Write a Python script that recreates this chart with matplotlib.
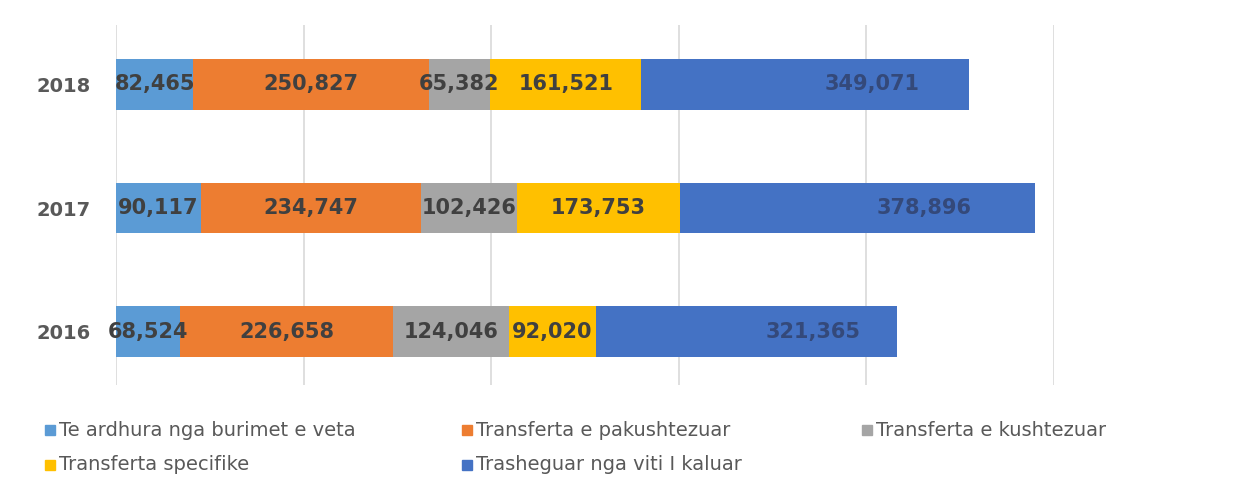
import matplotlib
matplotlib.use("Agg")
import matplotlib.pyplot as plt
from matplotlib.patches import Rectangle

years = ["2016", "2017", "2018"]
series_names = [
    "Te ardhura nga burimet e veta",
    "Transferta e pakushtezuar",
    "Transferta e kushtezuar",
    "Transferta specifike",
    "Trasheguar nga viti I kaluar",
]
own_revenue = [68524, 90117, 82465]
unconditional = [226658, 234747, 250827]
conditional = [124046, 102426, 65382]
specific = [92020, 173753, 161521]
carried_over = [321365, 378896, 349071]

series_values = [own_revenue, unconditional, conditional, specific, carried_over]
colors = ["#5B9BD5", "#ED7D31", "#A5A5A5", "#FFC000", "#4472C4"]
label_colors = ["#404040", "#404040", "#404040", "#404040", "#34497a"]
label_offsets = [0, 0, 0, 0, 48]  # points

W, H = 1239, 479
fig = plt.figure(figsize=(W / 100, H / 100), dpi=100)
fig.patch.set_facecolor("white")
ax = fig.add_axes([116 / W, 1 - 385 / H, (1054 - 116) / W, 360 / H])

ypos = list(range(len(years)))
left = [0] * len(years)
for vals, col, lc, off in zip(series_values, colors, label_colors, label_offsets):
    ax.barh(ypos, vals, left=left, height=0.41, color=col, zorder=3)
    for y, l, v in zip(ypos, left, vals):
        ax.annotate(f"{v:,}", xy=(l + v / 2, y), xytext=(off, 0),
                    textcoords="offset points", ha="center", va="center",
                    fontsize=15, fontweight="bold", color=lc, zorder=4)
    left = [a + b for a, b in zip(left, vals)]

ax.set_xlim(0, 1000000)
ax.set_ylim(-0.43, 2.48)
ax.set_xticks(range(0, 1000001, 200000))
ax.set_xticklabels([])
ax.tick_params(axis="x", length=0)
ax.grid(axis="x", color="#D9D9D9", linewidth=1.2, zorder=0)
ax.set_yticks(ypos)
ax.set_yticklabels(years, fontsize=14, fontweight="bold", color="#595959")
ax.tick_params(axis="y", length=0, pad=18)
for s in ax.spines.values():
    s.set_visible(False)

# legend (row-wise, Excel style)
legend_pos = [(45, 430), (462, 430), (862, 430), (45, 465), (462, 465)]
for (px, py), name, col in zip(legend_pos, series_names, colors):
    fig.add_artist(Rectangle((px / W, 1 - (py + 5) / H), 10 / W, 10 / H,
                             transform=fig.transFigure, color=col))
    fig.text((px + 14) / W, 1 - py / H, name, fontsize=14, color="#595959",
             ha="left", va="center")

fig.savefig("out.png", dpi=100, facecolor="white")
